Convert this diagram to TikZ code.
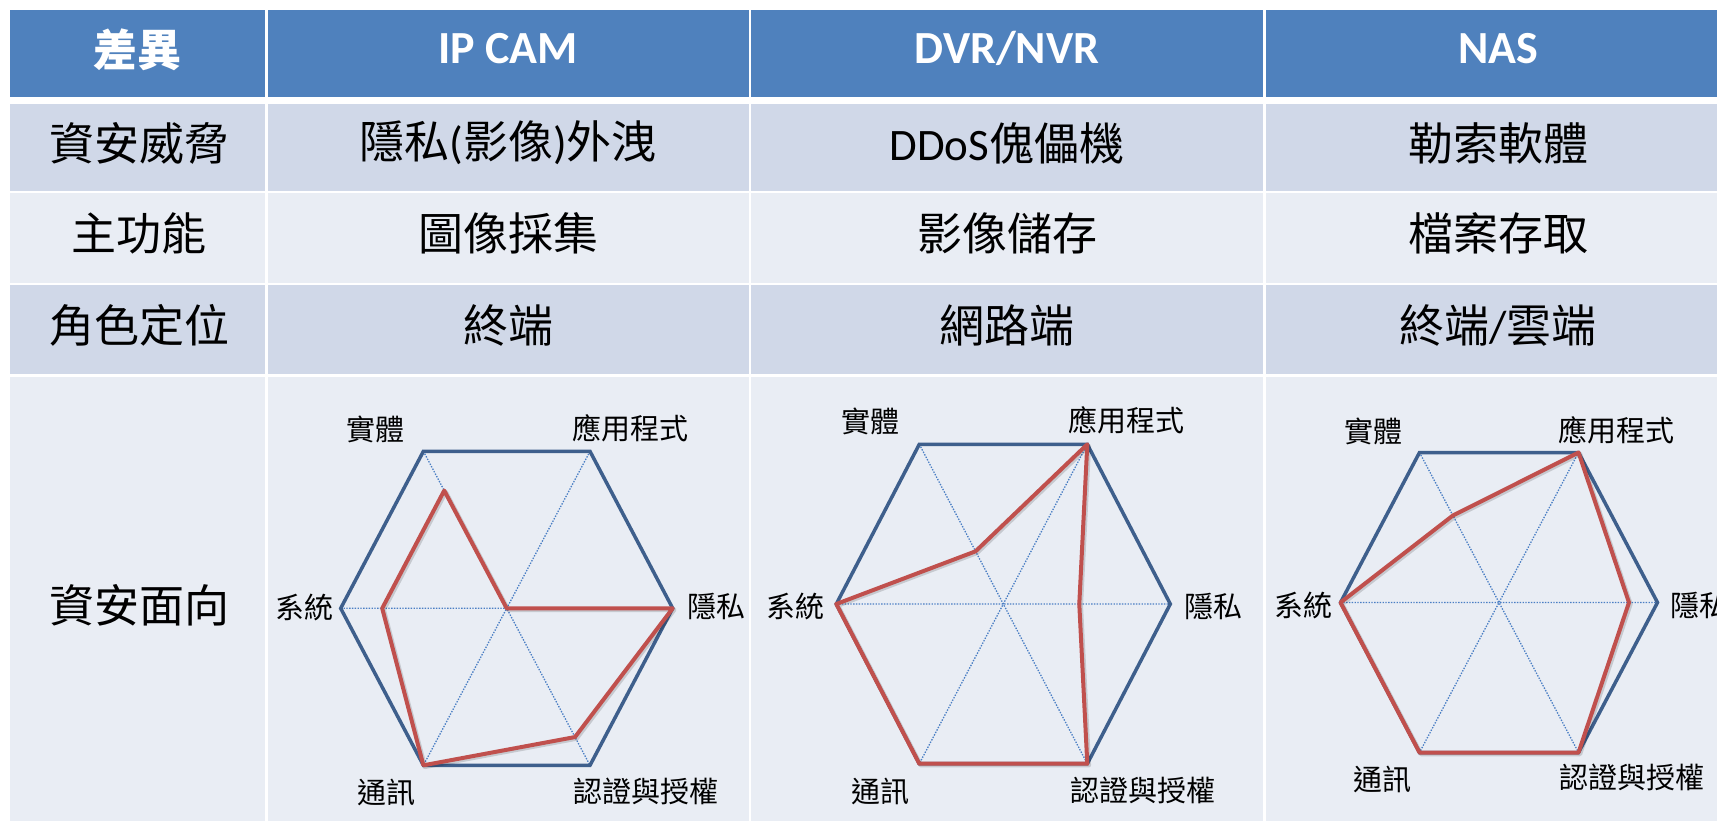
\documentclass[tikz,border=0pt]{standalone}
\usepackage{fontspec}
\setmainfont{Carlito}
\newfontfamily\cjk{Noto Sans CJK TC}
\usetikzlibrary{calc}

\definecolor{hdrblue}{HTML}{4F81BD}
\definecolor{banddark}{HTML}{D0D8E8}
\definecolor{bandlight}{HTML}{E9EDF4}
\definecolor{hexline}{HTML}{3E5F8C}
\definecolor{dataline}{HTML}{C0504D}
\definecolor{gridline}{HTML}{4A7EC4}

\tikzset{
  hdrtext/.style={text=white, font=\fontsize{46}{50}\selectfont\bfseries, anchor=base, inner sep=0pt},
  hdrcjk/.style={text=white, font=\cjk\fontsize{44}{48}\selectfont\bfseries, anchor=center, inner sep=0pt},
  celltext/.style={text=black, font=\fontsize{45}{48}\selectfont, anchor=center, inner sep=0pt},
  axislabel/.style={text=black, font=\cjk\fontsize{29}{31}\selectfont, anchor=center, inner sep=0pt},
  hexframe/.style={draw=hexline, line width=3.5pt, line join=miter},
  spoke/.style={draw=gridline, line width=1.3pt, dash pattern=on 1.4pt off 1.4pt},
  datapoly/.style={draw=dataline, line width=4pt, line join=round},
  datashadow/.style={draw=black, opacity=0.15, line width=4.5pt, line join=round},
}

% hexagonal frame: prefix, centre x, centre y, half width, vertex x offset, vertex y offset
\newcommand\hexgrid[6]{%
  \coordinate (#1-c) at (#2,#3);
  \coordinate (#1-phy) at ($(#1-c)+(-#5,-#6)$);
  \coordinate (#1-app) at ($(#1-c)+(#5,-#6)$);
  \coordinate (#1-pri) at ($(#1-c)+(#4,0)$);
  \coordinate (#1-aut) at ($(#1-c)+(#5,#6)$);
  \coordinate (#1-com) at ($(#1-c)+(-#5,#6)$);
  \coordinate (#1-sys) at ($(#1-c)+(-#4,0)$);
  \draw[spoke] (#1-phy) -- (#1-aut) (#1-app) -- (#1-com) (#1-sys) -- (#1-pri);
  \draw[hexframe] (#1-phy) -- (#1-app) -- (#1-pri) -- (#1-aut) -- (#1-com) -- (#1-sys) -- cycle;
}

% data polygon: prefix, then values on the six axes
\newcommand\radarline[7]{%
  \coordinate (#1-d1) at ($(#1-c)!#2!(#1-phy)$);
  \coordinate (#1-d2) at ($(#1-c)!#3!(#1-app)$);
  \coordinate (#1-d3) at ($(#1-c)!#4!(#1-pri)$);
  \coordinate (#1-d4) at ($(#1-c)!#5!(#1-aut)$);
  \coordinate (#1-d5) at ($(#1-c)!#6!(#1-com)$);
  \coordinate (#1-d6) at ($(#1-c)!#7!(#1-sys)$);
  \draw[datashadow] ([xshift=1.5pt,yshift=-1.5pt]#1-d1) -- ([xshift=1.5pt,yshift=-1.5pt]#1-d2)
    -- ([xshift=1.5pt,yshift=-1.5pt]#1-d3) -- ([xshift=1.5pt,yshift=-1.5pt]#1-d4)
    -- ([xshift=1.5pt,yshift=-1.5pt]#1-d5) -- ([xshift=1.5pt,yshift=-1.5pt]#1-d6) -- cycle;
  \draw[datapoly] (#1-d1) -- (#1-d2) -- (#1-d3) -- (#1-d4) -- (#1-d5) -- (#1-d6) -- cycle;
}

\begin{document}
\begin{tikzpicture}[x=1pt, y=-1pt]
\useasboundingbox (0,0) rectangle (1717,820);
\fill[white] (0,0) rectangle (1717,820);

% header row
\fill[hdrblue] (10,10) rectangle (265.2,96.7);
\fill[hdrblue] (267.6,10) rectangle (748.5,96.7);
\fill[hdrblue] (751,10) rectangle (1263.3,96.7);
\fill[hdrblue] (1265.8,10) rectangle (1730,96.7);

% body rows
\foreach \ya/\yb/\col in {104.3/191/banddark, 193.3/282.7/bandlight, 285/374.2/banddark, 376.7/830/bandlight}{
  \fill[\col] (10,\ya) rectangle (265.2,\yb);
  \fill[\col] (267.6,\ya) rectangle (748.5,\yb);
  \fill[\col] (751,\ya) rectangle (1263.3,\yb);
  \fill[\col] (1265.8,\ya) rectangle (1730,\yb);
}

% header texts
\node[hdrcjk]  (h0) at (137.5,50) {差異};
\node[hdrtext] (h1) at (508,63) {IP CAM};
\node[hdrtext] (h2) at (1007,63) {DVR/NVR};
\node[hdrtext] (h3) at (1498,63) {NAS};

% row: threats
\node[celltext] (r1c0) at (139,143) {\cjk 資安威脅};
\node[celltext] (r1c1) at (508,143) {{\cjk 隱私}({\cjk 影像}){\cjk 外洩}};
\node[celltext] (r1c2) at (1007,143) {DDoS{\cjk 傀儡機}};
\node[celltext] (r1c3) at (1498,143) {\cjk 勒索軟體};

% row: main function
\node[celltext] (r2c0) at (139,233.5) {\cjk 主功能};
\node[celltext] (r2c1) at (508,233) {\cjk 圖像採集};
\node[celltext] (r2c2) at (1007,233) {\cjk 影像儲存};
\node[celltext] (r2c3) at (1498,233) {\cjk 檔案存取};

% row: role
\node[celltext] (r3c0) at (139,325) {\cjk 角色定位};
\node[celltext] (r3c1) at (508,325) {\cjk 終端};
\node[celltext] (r3c2) at (1007,325) {\cjk 網路端};
\node[celltext] (r3c3) at (1498,325) {{\cjk 終端}/{\cjk 雲端}};

% row: security aspects
\node[celltext] (r4c0) at (139,605) {\cjk 資安面向};

% radar: IP CAM
\hexgrid{ipc}{506.7}{608.3}{166}{83.3}{157}
\radarline{ipc}{0.75}{0}{1}{0.82}{1}{0.75}
\node[axislabel] (ipc-l1) at (375,429) {實體};
\node[axislabel] (ipc-l2) at (630,428) {應用程式};
\node[axislabel] (ipc-l3) at (716,606) {隱私};
\node[axislabel] (ipc-l4) at (646,791) {認證與授權};
\node[axislabel] (ipc-l5) at (386,792) {通訊};
\node[axislabel] (ipc-l6) at (304,607) {系統};

% radar: DVR/NVR
\hexgrid{dvr}{1003.3}{604}{167}{84}{159.7}
\radarline{dvr}{0.33}{1}{0.455}{1}{1}{1}
\node[axislabel] (dvr-l1) at (870,421.7) {實體};
\node[axislabel] (dvr-l2) at (1126.7,420) {應用程式};
\node[axislabel] (dvr-l3) at (1213.3,606.7) {隱私};
\node[axislabel] (dvr-l4) at (1143.3,790) {認證與授權};
\node[axislabel] (dvr-l5) at (880,791.7) {通訊};
\node[axislabel] (dvr-l6) at (795,606.7) {系統};

% radar: NAS (the table runs past the right page edge)
\hexgrid{nas}{1499}{602.5}{158.5}{79.5}{150}
\radarline{nas}{0.58}{1}{0.82}{1}{1}{1}
\node[axislabel] (nas-l1) at (1373,431.7) {實體};
\node[axislabel] (nas-l2) at (1616.7,430) {應用程式};
\node[axislabel] (nas-l3) at (1699,605) {隱私};
\node[axislabel] (nas-l4) at (1631.7,777.5) {認證與授權};
\node[axislabel] (nas-l5) at (1382.5,779) {通訊};
\node[axislabel] (nas-l6) at (1303.3,605) {系統};
\end{tikzpicture}
\end{document}
